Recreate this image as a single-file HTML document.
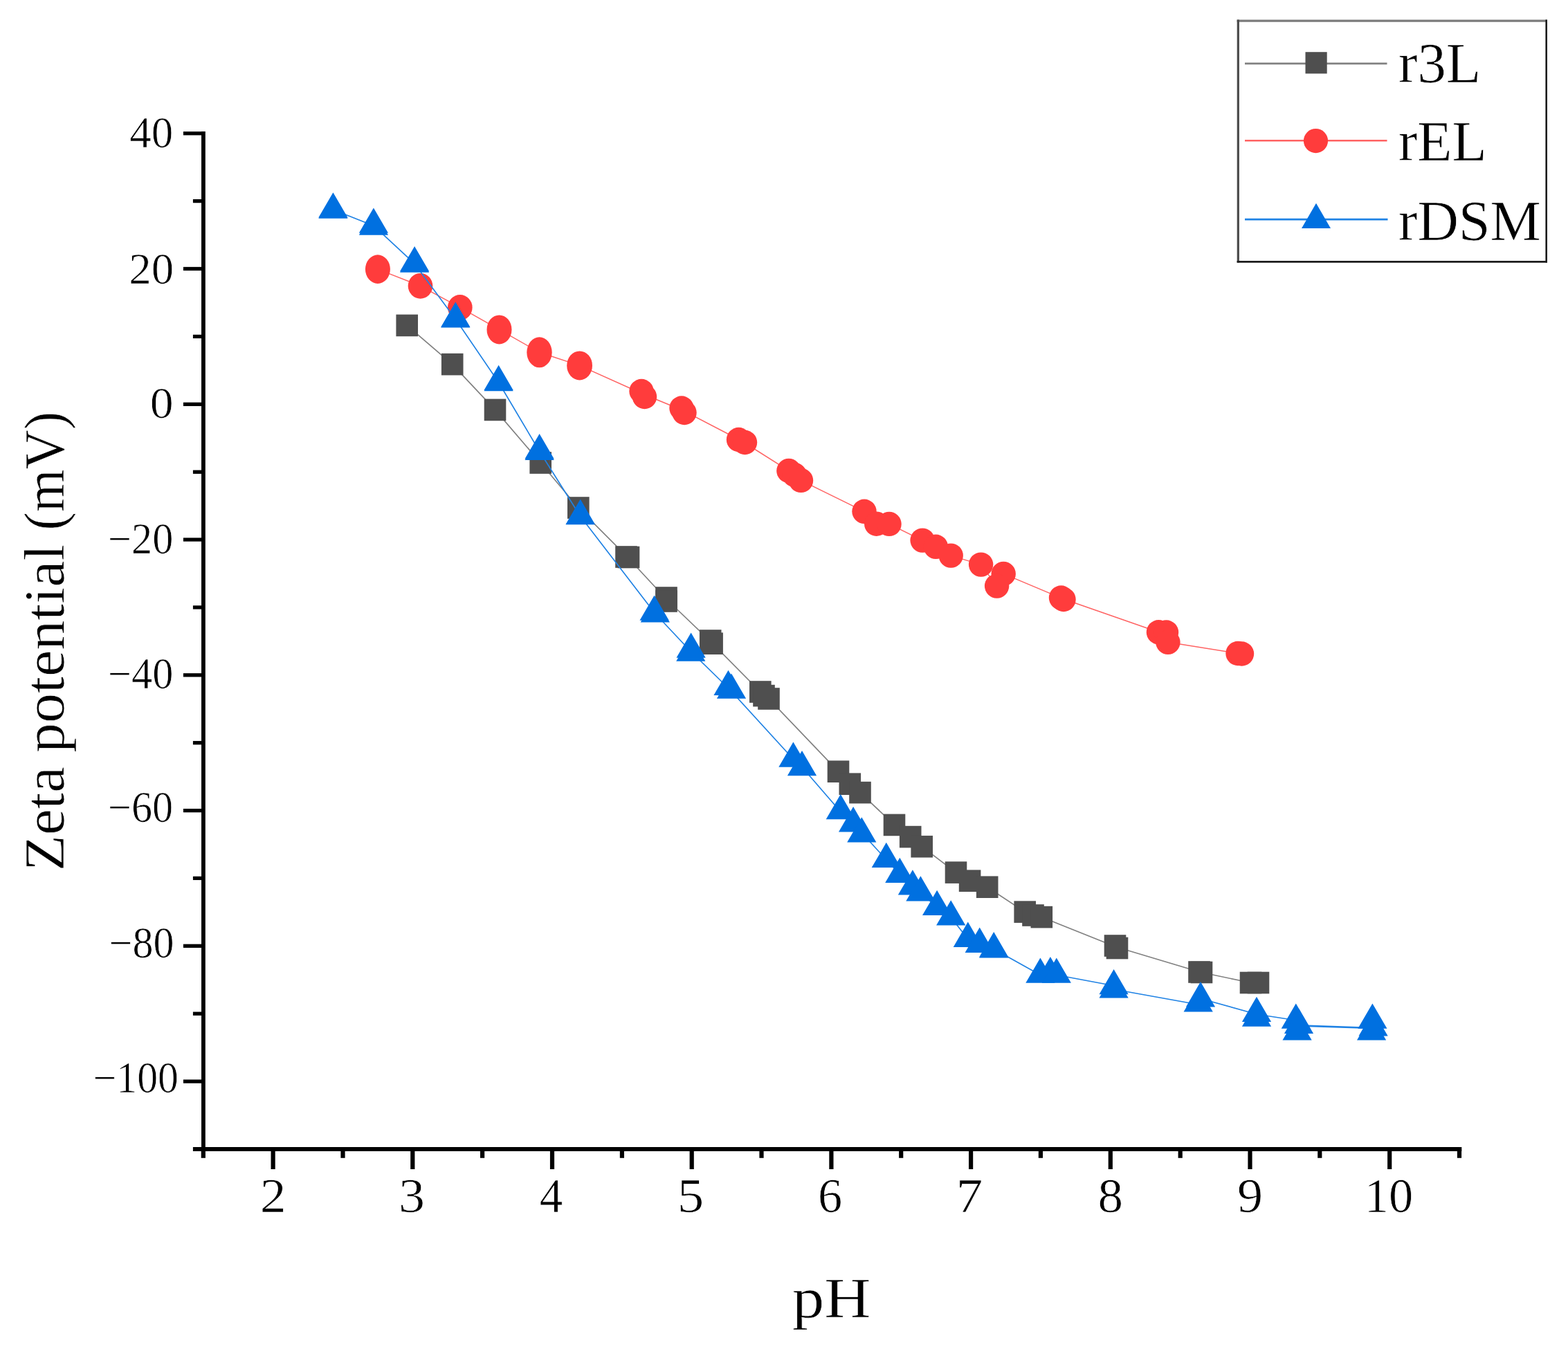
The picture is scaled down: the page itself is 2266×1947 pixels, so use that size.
<!DOCTYPE html>
<html lang="en">
<head>
<meta charset="utf-8">
<title>Zeta potential vs pH</title>
<style>
html,body{margin:0;padding:0;background:#fff;}
body{width:2266px;height:1947px;overflow:hidden;}
svg{display:block;}
text{font-family:"Liberation Serif","DejaVu Serif",serif;fill:#000;stroke:#fff;stroke-width:0.7px;}
.tick{font-size:63px;}
.xtick{font-size:69px;}
.title{font-size:82px;}
.leg{font-size:82px;}
</style>
</head>
<body>
<svg width="2266" height="1947" viewBox="0 0 2266 1947">
<rect x="0" y="0" width="2266" height="1947" fill="#fff"/>
<g id="series-r3L">
<g stroke="#808080" stroke-linecap="round" fill="none">
<line x1="588.2" y1="470.4" x2="653.7" y2="526.6" stroke-width="1.67"/>
<line x1="653.7" y1="526.6" x2="715.5" y2="592.4" stroke-width="1.67"/>
<line x1="715.5" y1="592.4" x2="781.2" y2="669" stroke-width="1.67"/>
<line x1="781.2" y1="669" x2="835.8" y2="734" stroke-width="1.67"/>
<line x1="835.8" y1="734" x2="906.7" y2="805.2" stroke-width="1.67"/>
<line x1="906.7" y1="805.2" x2="963" y2="866" stroke-width="1.67"/>
<line x1="963" y1="866" x2="1028" y2="928.3" stroke-width="1.67"/>
<line x1="1028" y1="928.3" x2="1098.8" y2="1000" stroke-width="1.67"/>
<line x1="1098.8" y1="1000" x2="1111.1" y2="1010.1" stroke-width="1.67"/>
<line x1="1111.1" y1="1010.1" x2="1211.5" y2="1115.2" stroke-width="1.67"/>
<line x1="1211.5" y1="1115.2" x2="1228.3" y2="1133.2" stroke-width="1.67"/>
<line x1="1228.3" y1="1133.2" x2="1243" y2="1145.6" stroke-width="1.67"/>
<line x1="1243" y1="1145.6" x2="1292.5" y2="1192.4" stroke-width="1.67"/>
<line x1="1292.5" y1="1192.4" x2="1315.7" y2="1209.6" stroke-width="1.67"/>
<line x1="1315.7" y1="1209.6" x2="1332.2" y2="1223.7" stroke-width="1.67"/>
<line x1="1332.2" y1="1223.7" x2="1381.5" y2="1261.1" stroke-width="1.67"/>
<line x1="1381.5" y1="1261.1" x2="1401.6" y2="1273.2" stroke-width="1.67"/>
<line x1="1401.6" y1="1273.2" x2="1426.7" y2="1282.2" stroke-width="1.67"/>
<line x1="1426.7" y1="1282.2" x2="1481.2" y2="1318.1" stroke-width="1.67"/>
<line x1="1481.2" y1="1318.1" x2="1493" y2="1323" stroke-width="1.67"/>
<line x1="1493" y1="1323" x2="1505.3" y2="1325.6" stroke-width="1.67"/>
<line x1="1505.3" y1="1325.6" x2="1613" y2="1368.7" stroke-width="1.67"/>
<line x1="1613" y1="1368.7" x2="1734.8" y2="1405.3" stroke-width="1.67"/>
<line x1="1734.8" y1="1405.3" x2="1807.5" y2="1420.5" stroke-width="1.67"/>
<line x1="1807.5" y1="1420.5" x2="1818.5" y2="1420.5" stroke-width="2.70"/>
</g>
<rect x="572.4" y="454.6" width="31.6" height="31.6" fill="#4f4f4f"/>
<rect x="637.9" y="510.8" width="31.6" height="31.6" fill="#4f4f4f"/>
<rect x="699.7" y="576.6" width="31.6" height="31.6" fill="#4f4f4f"/>
<rect x="765.4" y="653.2" width="31.6" height="31.6" fill="#4f4f4f"/>
<rect x="820" y="718.2" width="31.6" height="31.6" fill="#4f4f4f"/>
<rect x="889.2" y="789.2" width="31.6" height="31.6" fill="#4f4f4f"/>
<rect x="892.7" y="789.7" width="31.6" height="31.6" fill="#4f4f4f"/>
<rect x="947.2" y="848.2" width="31.6" height="31.6" fill="#4f4f4f"/>
<rect x="947.2" y="853.2" width="31.6" height="31.6" fill="#4f4f4f"/>
<rect x="1010.9" y="910.2" width="31.6" height="31.6" fill="#4f4f4f"/>
<rect x="1013.3" y="914.4" width="31.6" height="31.6" fill="#4f4f4f"/>
<rect x="1083" y="984.2" width="31.6" height="31.6" fill="#4f4f4f"/>
<rect x="1088.2" y="989.8" width="31.6" height="31.6" fill="#4f4f4f"/>
<rect x="1095.2" y="994.2" width="31.6" height="31.6" fill="#4f4f4f"/>
<rect x="1195.7" y="1099.4" width="31.6" height="31.6" fill="#4f4f4f"/>
<rect x="1212.5" y="1117.4" width="31.6" height="31.6" fill="#4f4f4f"/>
<rect x="1227.2" y="1129.8" width="31.6" height="31.6" fill="#4f4f4f"/>
<rect x="1276.7" y="1176.6" width="31.6" height="31.6" fill="#4f4f4f"/>
<rect x="1299.9" y="1193.8" width="31.6" height="31.6" fill="#4f4f4f"/>
<rect x="1316.4" y="1207.9" width="31.6" height="31.6" fill="#4f4f4f"/>
<rect x="1365.7" y="1245.3" width="31.6" height="31.6" fill="#4f4f4f"/>
<rect x="1385.8" y="1257.4" width="31.6" height="31.6" fill="#4f4f4f"/>
<rect x="1410.9" y="1266.4" width="31.6" height="31.6" fill="#4f4f4f"/>
<rect x="1465.4" y="1302.3" width="31.6" height="31.6" fill="#4f4f4f"/>
<rect x="1477.2" y="1307.2" width="31.6" height="31.6" fill="#4f4f4f"/>
<rect x="1489.5" y="1309.8" width="31.6" height="31.6" fill="#4f4f4f"/>
<rect x="1595.7" y="1351.2" width="31.6" height="31.6" fill="#4f4f4f"/>
<rect x="1598.7" y="1354.7" width="31.6" height="31.6" fill="#4f4f4f"/>
<rect x="1717.2" y="1389.2" width="31.6" height="31.6" fill="#4f4f4f"/>
<rect x="1720.7" y="1389.7" width="31.6" height="31.6" fill="#4f4f4f"/>
<rect x="1791.7" y="1404.7" width="31.6" height="31.6" fill="#4f4f4f"/>
<rect x="1802.7" y="1404.7" width="31.6" height="31.6" fill="#4f4f4f"/>
</g>
<g id="series-rEL">
<g stroke="#ff6262" stroke-linecap="round" fill="none">
<line x1="545.9" y1="389.1" x2="607.5" y2="413.3" stroke-width="1.49"/>
<line x1="607.5" y1="413.3" x2="664.8" y2="444.4" stroke-width="1.49"/>
<line x1="664.8" y1="444.4" x2="721.5" y2="476.4" stroke-width="1.49"/>
<line x1="721.5" y1="476.4" x2="779.5" y2="509.3" stroke-width="1.49"/>
<line x1="779.5" y1="509.3" x2="837.6" y2="528.4" stroke-width="1.49"/>
<line x1="837.6" y1="528.4" x2="929.2" y2="569.5" stroke-width="1.49"/>
<line x1="929.2" y1="569.5" x2="987" y2="593.3" stroke-width="1.49"/>
<line x1="987" y1="593.3" x2="1072" y2="637.5" stroke-width="1.49"/>
<line x1="1072" y1="637.5" x2="1139.9" y2="680.4" stroke-width="1.49"/>
<line x1="1139.9" y1="680.4" x2="1148.3" y2="686.4" stroke-width="1.49"/>
<line x1="1148.3" y1="686.4" x2="1157.5" y2="694.4" stroke-width="1.49"/>
<line x1="1157.5" y1="694.4" x2="1249" y2="739.3" stroke-width="1.49"/>
<line x1="1249" y1="739.3" x2="1266.7" y2="757.2" stroke-width="1.49"/>
<line x1="1266.7" y1="757.2" x2="1285" y2="757.4" stroke-width="2.40"/>
<line x1="1285" y1="757.4" x2="1333.1" y2="781.1" stroke-width="1.49"/>
<line x1="1333.1" y1="781.1" x2="1352.4" y2="790.3" stroke-width="1.49"/>
<line x1="1352.4" y1="790.3" x2="1374.2" y2="803.1" stroke-width="1.49"/>
<line x1="1374.2" y1="803.1" x2="1417.6" y2="816.1" stroke-width="1.49"/>
<line x1="1417.6" y1="816.1" x2="1440.6" y2="847.1" stroke-width="1.49"/>
<line x1="1440.6" y1="847.1" x2="1450.2" y2="829.4" stroke-width="1.49"/>
<line x1="1450.2" y1="829.4" x2="1535.3" y2="865.2" stroke-width="1.49"/>
<line x1="1535.3" y1="865.2" x2="1674.4" y2="913.8" stroke-width="1.49"/>
<line x1="1674.4" y1="913.8" x2="1685.5" y2="914" stroke-width="2.40"/>
<line x1="1685.5" y1="914" x2="1687.9" y2="928.3" stroke-width="1.49"/>
<line x1="1687.9" y1="928.3" x2="1791.8" y2="944.8" stroke-width="1.49"/>
</g>
<ellipse cx="545.9" cy="389.1" rx="18" ry="20.8" fill="#ff3c3c"/>
<ellipse cx="607.5" cy="413.3" rx="17.8" ry="18.4" fill="#ff3c3c"/>
<ellipse cx="664.8" cy="444.4" rx="17.8" ry="18.4" fill="#ff3c3c"/>
<ellipse cx="721.5" cy="476.4" rx="18" ry="21" fill="#ff3c3c"/>
<ellipse cx="779.5" cy="509.3" rx="18.2" ry="22" fill="#ff3c3c"/>
<ellipse cx="837.6" cy="528.4" rx="18.4" ry="21" fill="#ff3c3c"/>
<circle cx="927" cy="565.5" r="17.7" fill="#ff3c3c"/>
<circle cx="931.5" cy="573.5" r="17.7" fill="#ff3c3c"/>
<circle cx="985" cy="590" r="17.7" fill="#ff3c3c"/>
<circle cx="989" cy="596.5" r="17.7" fill="#ff3c3c"/>
<circle cx="1067.5" cy="635.5" r="17.7" fill="#ff3c3c"/>
<circle cx="1076.5" cy="639.5" r="17.7" fill="#ff3c3c"/>
<circle cx="1139.9" cy="680.4" r="17.7" fill="#ff3c3c"/>
<circle cx="1148.3" cy="686.4" r="17.7" fill="#ff3c3c"/>
<circle cx="1157.5" cy="694.4" r="17.7" fill="#ff3c3c"/>
<circle cx="1249" cy="739.3" r="17.7" fill="#ff3c3c"/>
<circle cx="1266.7" cy="757.2" r="17.7" fill="#ff3c3c"/>
<circle cx="1285" cy="757.4" r="17.7" fill="#ff3c3c"/>
<circle cx="1333.1" cy="781.1" r="17.7" fill="#ff3c3c"/>
<circle cx="1352.4" cy="790.3" r="17.7" fill="#ff3c3c"/>
<circle cx="1374.2" cy="803.1" r="17.7" fill="#ff3c3c"/>
<circle cx="1417.6" cy="816.1" r="17.7" fill="#ff3c3c"/>
<circle cx="1450.2" cy="829.4" r="17.7" fill="#ff3c3c"/>
<circle cx="1440.6" cy="847.1" r="17.7" fill="#ff3c3c"/>
<circle cx="1533.5" cy="864" r="17.7" fill="#ff3c3c"/>
<circle cx="1537" cy="866.5" r="17.7" fill="#ff3c3c"/>
<circle cx="1674.4" cy="913.8" r="17.7" fill="#ff3c3c"/>
<circle cx="1685.5" cy="914" r="17.7" fill="#ff3c3c"/>
<circle cx="1687.9" cy="928.3" r="17.7" fill="#ff3c3c"/>
<circle cx="1789" cy="944.5" r="17.7" fill="#ff3c3c"/>
<circle cx="1794.5" cy="945" r="17.7" fill="#ff3c3c"/>
</g>
<g id="series-rDSM">
<g stroke="#1f82e4" stroke-linecap="round" fill="none">
<line x1="481.4" y1="303.2" x2="539.9" y2="326.2" stroke-width="1.67"/>
<line x1="539.9" y1="326.2" x2="599.1" y2="381.2" stroke-width="1.67"/>
<line x1="599.1" y1="381.2" x2="658.3" y2="461.2" stroke-width="1.67"/>
<line x1="658.3" y1="461.2" x2="720.6" y2="552.7" stroke-width="1.67"/>
<line x1="720.6" y1="552.7" x2="779.6" y2="652.2" stroke-width="1.67"/>
<line x1="779.6" y1="652.2" x2="838.7" y2="746.2" stroke-width="1.67"/>
<line x1="838.7" y1="746.2" x2="946.3" y2="886.2" stroke-width="1.67"/>
<line x1="946.3" y1="886.2" x2="998.2" y2="941.5" stroke-width="1.67"/>
<line x1="998.2" y1="941.5" x2="1053.5" y2="995.5" stroke-width="1.67"/>
<line x1="1053.5" y1="995.5" x2="1146.4" y2="1097.2" stroke-width="1.67"/>
<line x1="1146.4" y1="1097.2" x2="1159" y2="1108.7" stroke-width="1.67"/>
<line x1="1159" y1="1108.7" x2="1215.2" y2="1173.7" stroke-width="1.67"/>
<line x1="1215.2" y1="1173.7" x2="1233.3" y2="1190.6" stroke-width="1.67"/>
<line x1="1233.3" y1="1190.6" x2="1246.6" y2="1205.1" stroke-width="1.67"/>
<line x1="1246.6" y1="1205.1" x2="1280.9" y2="1242.6" stroke-width="1.67"/>
<line x1="1280.9" y1="1242.6" x2="1300.5" y2="1264.3" stroke-width="1.67"/>
<line x1="1300.5" y1="1264.3" x2="1319.1" y2="1281.2" stroke-width="1.67"/>
<line x1="1319.1" y1="1281.2" x2="1330" y2="1289.7" stroke-width="1.67"/>
<line x1="1330" y1="1289.7" x2="1354.1" y2="1311.4" stroke-width="1.67"/>
<line x1="1354.1" y1="1311.4" x2="1374.2" y2="1325.9" stroke-width="1.67"/>
<line x1="1374.2" y1="1325.9" x2="1398.8" y2="1357.3" stroke-width="1.67"/>
<line x1="1398.8" y1="1357.3" x2="1415.7" y2="1365.3" stroke-width="1.67"/>
<line x1="1415.7" y1="1365.3" x2="1436.2" y2="1371.8" stroke-width="1.67"/>
<line x1="1436.2" y1="1371.8" x2="1503.4" y2="1409.2" stroke-width="1.67"/>
<line x1="1503.4" y1="1409.2" x2="1517.9" y2="1407.6" stroke-width="1.67"/>
<line x1="1517.9" y1="1407.6" x2="1526.8" y2="1409.2" stroke-width="1.67"/>
<line x1="1526.8" y1="1409.2" x2="1609.6" y2="1424.8" stroke-width="1.67"/>
<line x1="1609.6" y1="1424.8" x2="1609.6" y2="1430" stroke-width="2.70"/>
<line x1="1609.6" y1="1430" x2="1733" y2="1452.2" stroke-width="1.67"/>
<line x1="1733" y1="1452.2" x2="1733.5" y2="1443" stroke-width="2.70"/>
<line x1="1733.5" y1="1443" x2="1816" y2="1466" stroke-width="1.67"/>
<line x1="1816" y1="1466" x2="1874" y2="1475" stroke-width="1.67"/>
<line x1="1874" y1="1475" x2="1875" y2="1482.4" stroke-width="1.67"/>
<line x1="1875" y1="1482.4" x2="1983" y2="1486" stroke-width="2.70"/>
</g>
<polygon points="481.4,278.2 460.3,314.5 502.5,314.5" fill="#0070e0"/>
<polygon points="481.4,279.5 460.3,315.8 502.5,315.8" fill="#0070e0"/>
<polygon points="539.9,300.5 518.8,336.8 561,336.8" fill="#0070e0"/>
<polygon points="539.9,303.4 518.8,339.7 561,339.7" fill="#0070e0"/>
<polygon points="599.1,356 578,392.3 620.2,392.3" fill="#0070e0"/>
<polygon points="599.1,357.5 578,393.8 620.2,393.8" fill="#0070e0"/>
<polygon points="658.3,436.5 637.2,472.8 679.4,472.8" fill="#0070e0"/>
<polygon points="658.3,437.1 637.2,473.4 679.4,473.4" fill="#0070e0"/>
<polygon points="720.6,527.8 699.5,564.1 741.7,564.1" fill="#0070e0"/>
<polygon points="720.6,528.9 699.5,565.2 741.7,565.2" fill="#0070e0"/>
<polygon points="779.6,627 758.5,663.3 800.7,663.3" fill="#0070e0"/>
<polygon points="779.6,628.7 758.5,665 800.7,665" fill="#0070e0"/>
<polygon points="838.7,721.6 817.6,757.9 859.8,757.9" fill="#0070e0"/>
<polygon points="838.7,722 817.6,758.3 859.8,758.3" fill="#0070e0"/>
<polygon points="945.6,860.4 924.5,896.7 966.7,896.7" fill="#0070e0"/>
<polygon points="946.8,863.1 925.7,899.4 967.9,899.4" fill="#0070e0"/>
<polygon points="998.6,914.4 977.5,950.7 1019.7,950.7" fill="#0070e0"/>
<polygon points="998.3,919.5 977.2,955.8 1019.4,955.8" fill="#0070e0"/>
<polygon points="1052.5,968.8 1031.4,1005.1 1073.6,1005.1" fill="#0070e0"/>
<polygon points="1057,973.5 1035.9,1009.8 1078.1,1009.8" fill="#0070e0"/>
<polygon points="1146.4,1072.5 1125.3,1108.8 1167.5,1108.8" fill="#0070e0"/>
<polygon points="1159,1085 1137.9,1121.3 1180.1,1121.3" fill="#0070e0"/>
<polygon points="1214.8,1148 1193.7,1184.3 1235.9,1184.3" fill="#0070e0"/>
<polygon points="1233.1,1166.1 1212,1202.4 1254.2,1202.4" fill="#0070e0"/>
<polygon points="1245.3,1181.2 1224.2,1217.5 1266.4,1217.5" fill="#0070e0"/>
<polygon points="1280.8,1217.8 1259.7,1254.1 1301.9,1254.1" fill="#0070e0"/>
<polygon points="1300.3,1239.7 1279.2,1276 1321.4,1276" fill="#0070e0"/>
<polygon points="1318.9,1257.3 1297.8,1293.6 1340,1293.6" fill="#0070e0"/>
<polygon points="1330.4,1266.3 1309.3,1302.6 1351.5,1302.6" fill="#0070e0"/>
<polygon points="1354.1,1286.7 1333,1323 1375.2,1323" fill="#0070e0"/>
<polygon points="1374.2,1301.2 1353.1,1337.5 1395.3,1337.5" fill="#0070e0"/>
<polygon points="1398.8,1332.6 1377.7,1368.9 1419.9,1368.9" fill="#0070e0"/>
<polygon points="1415.7,1340.6 1394.6,1376.9 1436.8,1376.9" fill="#0070e0"/>
<polygon points="1436.2,1347.1 1415.1,1383.4 1457.3,1383.4" fill="#0070e0"/>
<polygon points="1436.2,1348.2 1415.1,1384.5 1457.3,1384.5" fill="#0070e0"/>
<polygon points="1503.4,1384.5 1482.3,1420.8 1524.5,1420.8" fill="#0070e0"/>
<polygon points="1517.9,1382.9 1496.8,1419.2 1539,1419.2" fill="#0070e0"/>
<polygon points="1526.8,1384.5 1505.7,1420.8 1547.9,1420.8" fill="#0070e0"/>
<polygon points="1609.6,1401 1588.5,1437.3 1630.7,1437.3" fill="#0070e0"/>
<polygon points="1609.6,1406.2 1588.5,1442.5 1630.7,1442.5" fill="#0070e0"/>
<polygon points="1735,1419.1 1713.9,1455.4 1756.1,1455.4" fill="#0070e0"/>
<polygon points="1731.7,1426.3 1710.6,1462.6 1752.8,1462.6" fill="#0070e0"/>
<polygon points="1816,1440.8 1794.9,1477.1 1837.1,1477.1" fill="#0070e0"/>
<polygon points="1816,1447.5 1794.9,1483.8 1837.1,1483.8" fill="#0070e0"/>
<polygon points="1872.8,1450.5 1851.7,1486.8 1893.9,1486.8" fill="#0070e0"/>
<polygon points="1877,1457.7 1855.9,1494 1898.1,1494" fill="#0070e0"/>
<polygon points="1874.6,1467.3 1853.5,1503.6 1895.7,1503.6" fill="#0070e0"/>
<polygon points="1983.4,1450.5 1962.3,1486.8 2004.5,1486.8" fill="#0070e0"/>
<polygon points="1984.6,1461.3 1963.5,1497.6 2005.7,1497.6" fill="#0070e0"/>
<polygon points="1982.1,1467.3 1961,1503.6 2003.2,1503.6" fill="#0070e0"/>
</g>
<g id="axes" stroke="#000" fill="none">
<line x1="293.9" y1="190" x2="293.9" y2="1663.9" stroke-width="5.8"/>
<line x1="278.9" y1="1661" x2="2112.3" y2="1661" stroke-width="5.8"/>
<line x1="264.9" y1="192.8" x2="293.9" y2="192.8" stroke-width="5.3"/>
<line x1="264.9" y1="388.5" x2="293.9" y2="388.5" stroke-width="5.3"/>
<line x1="264.9" y1="584.3" x2="293.9" y2="584.3" stroke-width="5.3"/>
<line x1="264.9" y1="780" x2="293.9" y2="780" stroke-width="5.3"/>
<line x1="264.9" y1="975.8" x2="293.9" y2="975.8" stroke-width="5.3"/>
<line x1="264.9" y1="1171.6" x2="293.9" y2="1171.6" stroke-width="5.3"/>
<line x1="264.9" y1="1367.3" x2="293.9" y2="1367.3" stroke-width="5.3"/>
<line x1="264.9" y1="1563.1" x2="293.9" y2="1563.1" stroke-width="5.3"/>
<line x1="278.9" y1="290.6" x2="293.9" y2="290.6" stroke-width="5.3"/>
<line x1="278.9" y1="486.4" x2="293.9" y2="486.4" stroke-width="5.3"/>
<line x1="278.9" y1="682.2" x2="293.9" y2="682.2" stroke-width="5.3"/>
<line x1="278.9" y1="877.9" x2="293.9" y2="877.9" stroke-width="5.3"/>
<line x1="278.9" y1="1073.7" x2="293.9" y2="1073.7" stroke-width="5.3"/>
<line x1="278.9" y1="1269.4" x2="293.9" y2="1269.4" stroke-width="5.3"/>
<line x1="278.9" y1="1465.2" x2="293.9" y2="1465.2" stroke-width="5.3"/>
<line x1="394.6" y1="1661" x2="394.6" y2="1690" stroke-width="6.2"/>
<line x1="596.3" y1="1661" x2="596.3" y2="1690" stroke-width="6.2"/>
<line x1="798" y1="1661" x2="798" y2="1690" stroke-width="6.2"/>
<line x1="999.7" y1="1661" x2="999.7" y2="1690" stroke-width="6.2"/>
<line x1="1201.4" y1="1661" x2="1201.4" y2="1690" stroke-width="6.2"/>
<line x1="1403.1" y1="1661" x2="1403.1" y2="1690" stroke-width="6.2"/>
<line x1="1604.8" y1="1661" x2="1604.8" y2="1690" stroke-width="6.2"/>
<line x1="1806.5" y1="1661" x2="1806.5" y2="1690" stroke-width="6.2"/>
<line x1="2008.2" y1="1661" x2="2008.2" y2="1690" stroke-width="6.2"/>
<line x1="293.8" y1="1661" x2="293.8" y2="1673.8" stroke-width="6.2"/>
<line x1="495.5" y1="1661" x2="495.5" y2="1673.8" stroke-width="6.2"/>
<line x1="697.1" y1="1661" x2="697.1" y2="1673.8" stroke-width="6.2"/>
<line x1="898.9" y1="1661" x2="898.9" y2="1673.8" stroke-width="6.2"/>
<line x1="1100.5" y1="1661" x2="1100.5" y2="1673.8" stroke-width="6.2"/>
<line x1="1302.2" y1="1661" x2="1302.2" y2="1673.8" stroke-width="6.2"/>
<line x1="1503.9" y1="1661" x2="1503.9" y2="1673.8" stroke-width="6.2"/>
<line x1="1705.7" y1="1661" x2="1705.7" y2="1673.8" stroke-width="6.2"/>
<line x1="1907.3" y1="1661" x2="1907.3" y2="1673.8" stroke-width="6.2"/>
<line x1="2109" y1="1661" x2="2109" y2="1673.8" stroke-width="6.2"/>
</g>
<g id="y-tick-labels" class="tick">
<text x="187.3" textLength="63" lengthAdjust="spacingAndGlyphs" y="212.8">40</text>
<text x="186.2" textLength="64.9" lengthAdjust="spacingAndGlyphs" y="409.8">20</text>
<text x="216.8" textLength="33.9" lengthAdjust="spacingAndGlyphs" y="603.8">0</text>
<text x="156.1" textLength="94.3" lengthAdjust="spacingAndGlyphs" y="799.5">−20</text>
<text x="156.1" textLength="94.3" lengthAdjust="spacingAndGlyphs" y="994.7">−40</text>
<text x="156.1" textLength="94.1" lengthAdjust="spacingAndGlyphs" y="1188">−60</text>
<text x="157.6" textLength="93.8" lengthAdjust="spacingAndGlyphs" y="1384">−80</text>
<text x="134.6" textLength="123.4" lengthAdjust="spacingAndGlyphs" y="1578.8">−100</text>
</g>
<g id="x-tick-labels" class="xtick">
<text x="375.7" textLength="37.8" lengthAdjust="spacingAndGlyphs" y="1752">2</text>
<text x="576.1" textLength="38" lengthAdjust="spacingAndGlyphs" y="1752">3</text>
<text x="779.7" textLength="33.5" lengthAdjust="spacingAndGlyphs" y="1752">4</text>
<text x="978.7" textLength="38.5" lengthAdjust="spacingAndGlyphs" y="1752">5</text>
<text x="1182.1" textLength="35.2" lengthAdjust="spacingAndGlyphs" y="1752">6</text>
<text x="1381.8" textLength="38.5" lengthAdjust="spacingAndGlyphs" y="1752">7</text>
<text x="1586.5" textLength="36.5" lengthAdjust="spacingAndGlyphs" y="1752">8</text>
<text x="1788" textLength="37.1" lengthAdjust="spacingAndGlyphs" y="1752">9</text>
<text x="1971.8" textLength="70.4" lengthAdjust="spacingAndGlyphs" y="1752">10</text>
</g>
<text class="title" transform="translate(92.3,1260) rotate(-90)"><tspan x="1" textLength="150.9" lengthAdjust="spacingAndGlyphs">Zeta</tspan> <tspan x="171.9" textLength="301.5" lengthAdjust="spacingAndGlyphs">potential</tspan> <tspan x="493.5" textLength="171.7" lengthAdjust="spacingAndGlyphs">(mV)</tspan></text>
<text class="title" x="1144.7" textLength="113.8" lengthAdjust="spacingAndGlyphs" y="1903.6">pH</text>
<g id="legend">
<rect x="1789.3" y="30.2" width="445.3" height="348.3" fill="#fff"/>
<line x1="1787.6" y1="30.1" x2="2236" y2="30.1" stroke="#7a7a7a" stroke-width="3.4"/>
<line x1="1789.3" y1="28.4" x2="1789.3" y2="379.6" stroke="#4a4a4a" stroke-width="3.2"/>
<line x1="2234.7" y1="28.4" x2="2234.7" y2="379.6" stroke="#1c1c1c" stroke-width="2.6"/>
<line x1="1787.6" y1="378.4" x2="2236" y2="378.4" stroke="#1c1c1c" stroke-width="2.6"/>
<line x1="1799" y1="91.9" x2="2004.5" y2="91.9" stroke="#808080" stroke-width="2.8"/>
<rect x="1886.5" y="75.2" width="31.2" height="31.2" fill="#4f4f4f"/>
<text class="leg" x="2020.9" textLength="119.3" lengthAdjust="spacingAndGlyphs" y="119.2">r3L</text>
<line x1="1799" y1="203.3" x2="2004.5" y2="203.3" stroke="#ff6262" stroke-width="2.6"/>
<circle cx="1901.5" cy="203.6" r="17.6" fill="#ff3c3c"/>
<text class="leg" x="2020.9" textLength="127.7" lengthAdjust="spacingAndGlyphs" y="231.5">rEL</text>
<line x1="1799" y1="317.1" x2="2005.5" y2="317.1" stroke="#1f82e4" stroke-width="2.8"/>
<polygon points="1902,293.8 1881,330.1 1923,330.1" fill="#0070e0"/>
<text class="leg" x="2021" textLength="205.8" lengthAdjust="spacingAndGlyphs" y="346.5">rDSM</text>
</g>
</svg>
</body>
</html>
